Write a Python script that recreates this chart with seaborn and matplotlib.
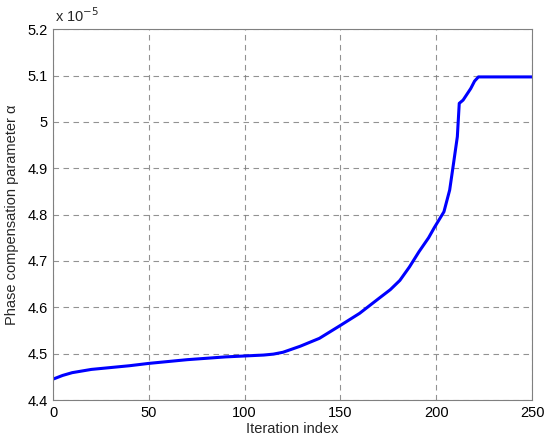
import numpy as np
import pandas as pd
import matplotlib
matplotlib.use("Agg")
import matplotlib.pyplot as plt
import seaborn as sns
from matplotlib.ticker import FuncFormatter, MultipleLocator

# valores (alpha em unidades de 1e-5)
iteration = [0, 5, 10, 20, 30, 40, 50, 60, 70, 80, 90, 100, 110, 115, 120,
             129, 139, 150, 160, 170, 176, 181, 186, 191, 196, 199, 204, 207,
             209, 211, 212, 214, 218, 220, 222, 235, 250]
alpha_e5 = [4.445, 4.453, 4.459, 4.466, 4.470, 4.474, 4.479, 4.483, 4.487,
            4.490, 4.493, 4.495, 4.497, 4.499, 4.503, 4.516, 4.533, 4.561,
            4.587, 4.619, 4.638, 4.658, 4.687, 4.720, 4.750, 4.772, 4.806,
            4.853, 4.910, 4.968, 5.040, 5.047, 5.072, 5.088, 5.097, 5.097,
            5.097]

df = pd.DataFrame({"iter": iteration, "alpha": alpha_e5})

sns.set_style("white")
plt.rcParams["font.family"] = ["Liberation Sans", "DejaVu Sans"]
plt.rcParams.update({
    "font.size": 10.5,
    "xtick.direction": "in",
    "ytick.direction": "in",
})

fig = plt.figure(figsize=(5.5, 4.42), dpi=100)
ax = fig.add_axes([0.0964, 0.095, 0.871, 0.839])

sns.lineplot(data=df, x="iter", y="alpha", color="#0000ff", linewidth=2.2, ax=ax)

ax.set_xlim(0, 250)
ax.set_ylim(4.4, 5.2)
ax.xaxis.set_major_locator(MultipleLocator(50))
ax.yaxis.set_major_locator(MultipleLocator(0.1))
ax.yaxis.set_major_formatter(FuncFormatter(lambda v, p: f"{v:g}"))
ax.tick_params(colors="#000000", labelsize=10.5, pad=4)
for s in ax.spines.values():
    s.set_color("#808080")
    s.set_linewidth(0.8)

ax.grid(True, linestyle=(0, (5, 4)), color="#777777", linewidth=0.8, alpha=0.8)

ax.set_xlabel("Iteration index", labelpad=2)
ax.set_ylabel("Phase compensation parameter \u03b1", labelpad=6)
ax.text(0.005, 1.012, "x 10$^{-5}$", transform=ax.transAxes, ha="left", va="bottom",
        fontsize=10.5)

plt.savefig("out.png", dpi=100)
